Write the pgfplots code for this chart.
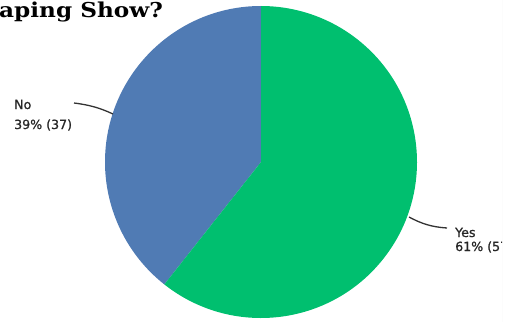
\documentclass[border=0pt]{standalone}
\usepackage{pgfplots}
\pgfplotsset{compat=1.18}
\usepackage{pgfplotstable}
\usepackage{fontspec}
\setmainfont{DejaVu Sans}
\newfontfamily\labfont[FakeBold=1.0]{DejaVu Sans}
\newfontfamily\titlefont{DejaVu Serif}
\definecolor{pieblue}{RGB}{80,123,180}
\definecolor{piegreen}{RGB}{0,191,111}
\pgfplotstableread{
label value
No 37
Yes 57
}\piedata
\begin{document}
\begin{tikzpicture}
\pgfplotstablegetelem{0}{value}\of\piedata\edef\vNo{\pgfplotsretval}
\pgfplotstablegetelem{1}{value}\of\piedata\edef\vYes{\pgfplotsretval}
\pgfmathsetmacro\tot{\vNo+\vYes}
\pgfmathsetmacro\aNo{90+360*\vNo/\tot}
\useasboundingbox (0,0) rectangle (513pt,322pt);
\clip (0,0) rectangle (502pt,322pt);
\begin{axis}[hide axis, x=1pt, y=1pt, xmin=0, xmax=513, ymin=0, ymax=322,
  scale only axis, clip=false, at={(0,0)}, anchor=origin]
\addplot[draw=none] coordinates {(0,0) (513,322)};
\fill[pieblue] (axis cs:261,160) -- ++(90:156pt) arc[start angle=90, end angle=\aNo, radius=156pt] -- cycle;
\fill[piegreen] (axis cs:261,160) -- ++(\aNo:156pt) arc[start angle=\aNo, end angle=450, radius=156pt] -- cycle;
\draw[black!80, line width=1.3pt] (axis cs:74,219) .. controls (axis cs:90,217) and (axis cs:100,214) .. (axis cs:113,208);
\draw[black!80, line width=1.3pt] (axis cs:409,105) .. controls (axis cs:422,98) and (axis cs:432,95) .. (axis cs:447,94);
\node[anchor=base west, inner sep=0pt, text=black!85, font=\labfont\fontsize{12.6}{15}\selectfont] at (axis cs:14,213) {No};
\node[anchor=base west, inner sep=0pt, text=black!85, font=\labfont\fontsize{12.6}{15}\selectfont] at (axis cs:14,193) {39\% (37)};
\node[anchor=base west, inner sep=0pt, text=black!85, font=\labfont\fontsize{12.6}{15}\selectfont] at (axis cs:455,85) {Yes};
\node[anchor=base west, inner sep=0pt, text=black!85, font=\labfont\fontsize{12.6}{15}\selectfont] at (axis cs:455,71) {61\% (57)};
\node[anchor=base west, inner sep=0pt, xscale=1.13, font=\titlefont\bfseries\fontsize{20.5}{24}\selectfont] at (axis cs:-1,304) {aping Show?};
\end{axis}
\draw[black!8, line width=0.6pt] (502pt,0) -- (502pt,322pt);
\end{tikzpicture}
\end{document}
